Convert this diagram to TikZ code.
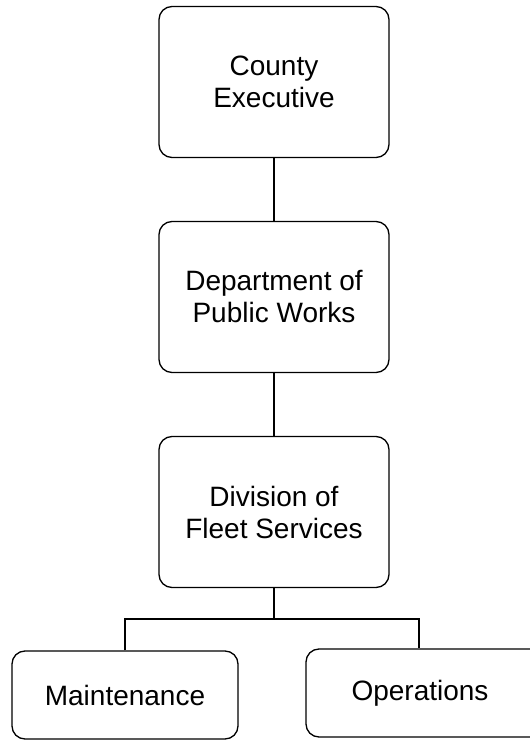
\documentclass[tikz,border=0pt]{standalone}
\usepackage{fontspec}
\setmainfont{Liberation Sans}
\usepackage{tikz}
\usetikzlibrary{positioning}

\begin{document}
\begin{tikzpicture}[x=1pt, y=1pt,
    orgbox/.style = {draw, line width=1.3pt, rounded corners=13pt, align=center,
                     font=\fontsize{28}{32}\selectfont, inner sep=0pt},
    unitbox/.style = {orgbox, minimum width=230pt, minimum height=151pt},
    subbox/.style = {orgbox, minimum width=226pt, minimum height=88pt}]
                \clip (0,0) rectangle (530,740);
                % chain of command
                \node[unitbox] (exec) at (274,658) {County\\Executive};
                \node[unitbox] (dpw) at (274,443) {Department of\\Public Works};
                \node[unitbox] (fleet) at (274,228) {Division of\\Fleet Services};
                % the two sections, the right one runs off the page
                \node[subbox] (maint) at (125,45) {Maintenance};
                \node[subbox, minimum width=240pt] (oper) at (426,47) {\hspace*{-12pt}Operations};
                \coordinate (split) at (274,121);
                \coordinate (opertop) at (419,121);
                \draw[line width=1.3pt] (exec) -- (dpw);
                \draw[line width=1.3pt] (dpw) -- (fleet);
                \draw[line width=1.3pt] (fleet) -- (split);
                \draw[line width=1.3pt] (maint) |- (split) -- (opertop) -- (opertop |- oper.north);
            \end{tikzpicture}
\end{document}
